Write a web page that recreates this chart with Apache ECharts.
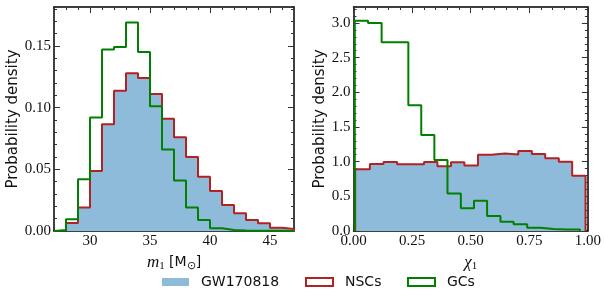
<!DOCTYPE html>
<html>
<head>
<meta charset="utf-8">
<script src="https://cdn.jsdelivr.net/npm/echarts@6/dist/echarts.min.js"></script>
<style>
  html, body { margin: 0; padding: 0; background: #fff; }
  #chart { width: 604px; height: 292px; }
</style>
</head>
<body>
<div id="chart"></div>
<script>
// left panel: primary mass m1, unit-wide bins
var massEdgesGW = [28, 29, 30, 31, 32, 33, 34, 35, 36, 37, 38, 39, 40, 41, 42, 43, 44, 45, 46, 47];
var massGW = [0.0065, 0.019, 0.0486, 0.0865, 0.1137, 0.1278, 0.124, 0.111, 0.091, 0.076, 0.060, 0.044, 0.0324, 0.021, 0.0143, 0.009, 0.0062, 0.0027, 0.0016];
var massEdgesNSC = [28, 29, 30, 31, 32, 33, 34, 35, 36, 37, 38, 39, 40, 41, 42, 43, 44, 45, 46, 47];
var massNSC = [0.0065, 0.019, 0.0486, 0.0865, 0.1137, 0.1278, 0.124, 0.111, 0.091, 0.076, 0.060, 0.044, 0.0324, 0.021, 0.0143, 0.009, 0.0062, 0.0027, 0.0016];
var massEdgesGC = [27, 28, 29, 30, 31, 32, 33, 34, 35, 36, 37, 38, 39, 40, 41, 42, 43, 44, 45, 46, 47];
var massGC = [0.0008, 0.0095, 0.042, 0.092, 0.147, 0.149, 0.169, 0.145, 0.101, 0.066, 0.041, 0.019, 0.009, 0.0022, 0.0008, 0.0004, 0.0003, 0.0002, 0.0002, 0.0001];

// right panel: spin chi1
var spinEdgesGW = [0.007, 0.070, 0.128, 0.186, 0.243, 0.301, 0.358, 0.416, 0.473, 0.531, 0.588, 0.646, 0.703, 0.761, 0.818, 0.876, 0.933, 0.990];
var spinGW = [0.89, 0.965, 0.995, 0.962, 0.962, 0.995, 0.935, 0.99, 0.943, 1.10, 1.118, 1.102, 1.152, 1.112, 1.05, 1.0, 0.795];
var spinEdgesNSC = [0.007, 0.070, 0.128, 0.186, 0.243, 0.301, 0.358, 0.416, 0.473, 0.531, 0.588, 0.646, 0.703, 0.761, 0.818, 0.876, 0.933, 0.990];
var spinNSC = [0.89, 0.965, 0.995, 0.962, 0.962, 0.995, 0.935, 0.99, 0.943, 1.10, 1.118, 1.102, 1.152, 1.112, 1.05, 1.0, 0.795];
var spinEdgesGC = [0.0055, 0.062, 0.120, 0.175, 0.234, 0.289, 0.345, 0.401, 0.458, 0.514, 0.570, 0.627, 0.683, 0.741, 0.797, 0.853, 0.910, 0.966];
var spinGC = [3.03, 3.0, 2.72, 2.72, 1.815, 1.385, 1.025, 0.54, 0.327, 0.435, 0.216, 0.134, 0.098, 0.048, 0.03, 0.022, 0.02];

// tick labels
var massTicks = [30, 35, 40, 45];
var massDensityTicks = [0, 0.05, 0.10, 0.15];
var spinTicks = [0, 0.25, 0.5, 0.75, 1.0];
var spinDensityTicks = [0, 0.5, 1.0, 1.5, 2.0, 2.5, 3.0];

var names = ['GW170818', 'NSCs', 'GCs'];
var colors = ['#8fbbda', '#b22222', '#008000'];

var serif = 'Liberation Serif';
var sans = 'DejaVu Sans';

// turn bin edges + heights into an outline (matplotlib histtype="step")
function stepPoints(edges, heights) {
  var pts = [[edges[0], 0]];
  for (var i = 0; i < heights.length; i++) {
    pts.push([edges[i], heights[i]]);
    pts.push([edges[i + 1], heights[i]]);
  }
  pts.push([edges[edges.length - 1], 0]);
  return pts;
}

function frameAxis(grid, pos, min, max, opts) {
  var a = {
    type: 'value',
    gridIndex: grid,
    position: pos,
    min: min,
    max: max,
    splitLine: { show: false },
    axisLine: { show: true, onZero: false, lineStyle: { color: '#000', width: 1.5 } },
    axisTick: { show: true, inside: true, length: 6, lineStyle: { color: '#333', width: 1 } },
    axisLabel: { show: false },
  };
  if (opts.ticks) {
    a.axisTick.customValues = opts.ticks;
    a.axisLabel.customValues = opts.ticks;
  }
  if (opts.minor) {
    a.interval = opts.minor;
    a.axisLine = { show: false, onZero: false };
    a.axisTick.length = 3;
  }
  if (opts.labels) {
    a.axisLabel = {
      show: true,
      customValues: opts.ticks,
      margin: 3,
      fontFamily: serif,
      fontSize: 15,
      color: '#111',
      formatter: function (v) { return opts.digits === 0 ? String(v) : v.toFixed(opts.digits); },
    };
  }
  if (opts.name) {
    a.name = opts.name;
    a.nameLocation = 'middle';
    a.nameGap = opts.nameGap;
    a.nameTextStyle = opts.nameStyle;
  }
  return a;
}

var yNameStyle = { fontFamily: sans, fontSize: 15, color: '#111' };
var xNameRich = {
  i: { fontFamily: serif, fontStyle: 'italic', fontSize: 17, color: '#111' },
  s: { fontFamily: serif, fontSize: 11, color: '#111', padding: [8, 0, 0, 0] },
  r: { fontFamily: sans, fontSize: 14, color: '#111' },
};

var xAxes = [
  frameAxis(0, 'bottom', 27, 47, {
    ticks: massTicks, labels: true, digits: 0,
    name: '{i|m}{s|1}{r| [M}{s|⊙}{r|]}', nameGap: 13,
    nameStyle: { rich: xNameRich },
  }),
  frameAxis(0, 'top', 27, 47, { ticks: massTicks }),
  frameAxis(0, 'bottom', 27, 47, { minor: 1 }),
  frameAxis(0, 'top', 27, 47, { minor: 1 }),
  frameAxis(1, 'bottom', 0, 1, {
    ticks: spinTicks, labels: true, digits: 2,
    name: '{i|χ}{s|1}', nameGap: 13,
    nameStyle: { rich: xNameRich },
  }),
  frameAxis(1, 'top', 0, 1, { ticks: spinTicks }),
  frameAxis(1, 'bottom', 0, 1, { minor: 0.05 }),
  frameAxis(1, 'top', 0, 1, { minor: 0.05 }),
];

var yAxes = [
  frameAxis(0, 'left', 0, 0.1815, {
    ticks: massDensityTicks, labels: true, digits: 2,
    name: 'Probability density', nameGap: 29, nameStyle: yNameStyle,
  }),
  frameAxis(0, 'right', 0, 0.1815, { ticks: massDensityTicks }),
  frameAxis(0, 'left', 0, 0.1815, { minor: 0.01 }),
  frameAxis(0, 'right', 0, 0.1815, { minor: 0.01 }),
  frameAxis(1, 'left', 0, 3.23, {
    ticks: spinDensityTicks, labels: true, digits: 1,
    name: 'Probability density', nameGap: 20, nameStyle: yNameStyle,
  }),
  frameAxis(1, 'right', 0, 3.23, { ticks: spinDensityTicks }),
  frameAxis(1, 'left', 0, 3.23, { minor: 0.1 }),
  frameAxis(1, 'right', 0, 3.23, { minor: 0.1 }),
];

function histSeries(name, idx, edges, heights, filled) {
  var s = {
    name: name,
    type: 'line',
    xAxisIndex: idx === 0 ? 0 : 4,
    yAxisIndex: idx === 0 ? 0 : 4,
    data: stepPoints(edges, heights),
    showSymbol: false,
    symbol: 'none',
    clip: true,
  };
  if (filled) {
    s.color = colors[0];
    s.lineStyle = { width: 0 };
    s.areaStyle = { color: colors[0], opacity: 1 };
    s.z = 2;
  } else {
    var c = name === 'NSCs' ? colors[1] : colors[2];
    s.color = c;
    s.lineStyle = { color: c, width: 2 };
    s.z = name === 'GCs' ? 4 : 3;
  }
  return s;
}

function legendItem(i, left) {
  var style = i === 0
    ? { color: colors[0], borderWidth: 0 }
    : { color: '#fff', borderColor: colors[i], borderWidth: 2 };
  return {
    data: [{ name: names[i], icon: 'rect', itemStyle: style }],
    left: left,
    top: 275,
    itemWidth: 27,
    itemHeight: 8,
    padding: 0,
    textStyle: { fontFamily: sans, fontSize: 14, color: '#111', padding: [0, 0, 0, 7] },
    selectedMode: false,
  };
}

var chart = echarts.init(document.getElementById('chart'));
chart.setOption({
  animation: false,
  backgroundColor: '#fff',
  grid: [
    { left: 54, top: 7, width: 240, height: 224 },
    { left: 353.5, top: 7, width: 238.2, height: 224 },
  ],
  xAxis: xAxes,
  yAxis: yAxes,
  legend: [legendItem(0, 162), legendItem(1, 305), legendItem(2, 407)],
  series: [
    histSeries('GW170818', 0, massEdgesGW, massGW, true),
    histSeries('NSCs', 0, massEdgesNSC, massNSC, false),
    histSeries('GCs', 0, massEdgesGC, massGC, false),
    histSeries('GW170818', 1, spinEdgesGW, spinGW, true),
    histSeries('NSCs', 1, spinEdgesNSC, spinNSC, false),
    histSeries('GCs', 1, spinEdgesGC, spinGC, false),
  ],
});
</script>
</body>
</html>
